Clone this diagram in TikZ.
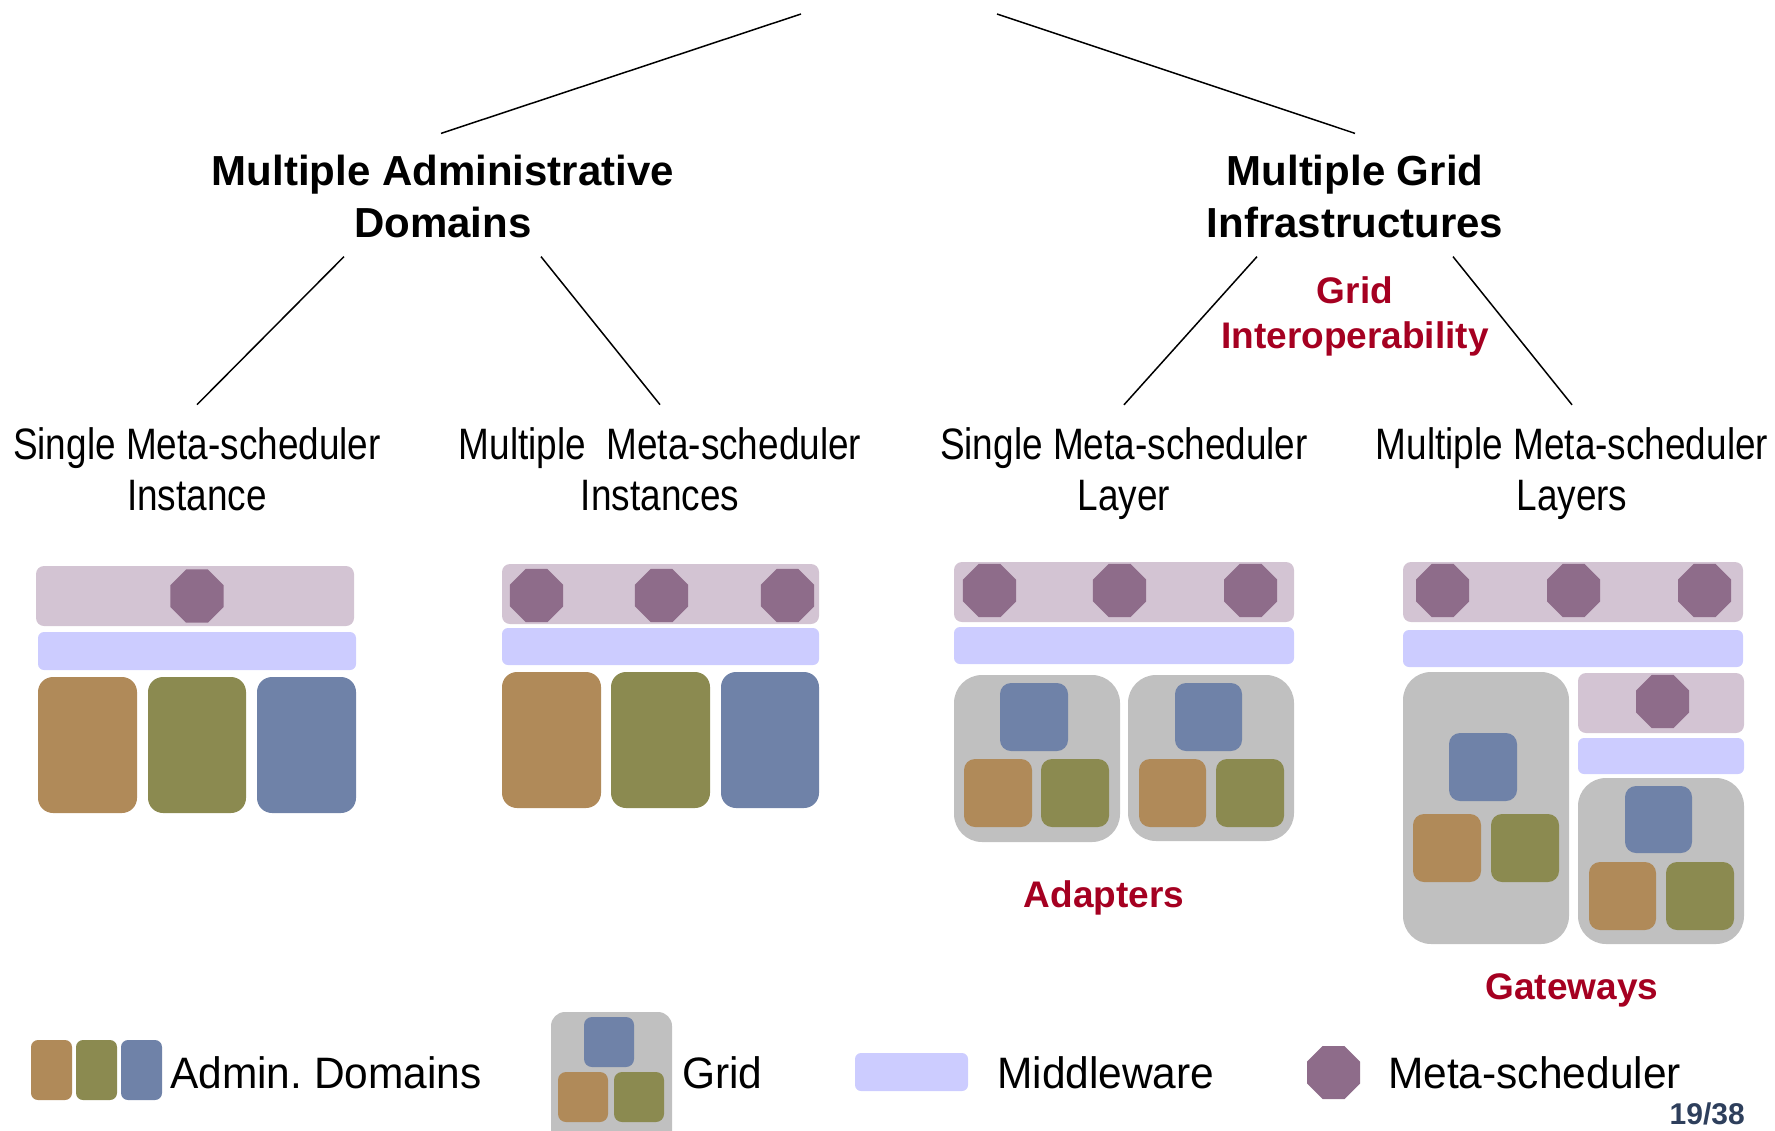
\documentclass[tikz,border=0pt]{standalone}
\usepackage{fontspec}
\setmainfont{Liberation Sans}
\newfontfamily\narrowfont[FakeStretch=0.84]{Liberation Sans}
\newfontfamily\legendfont[FakeStretch=0.965]{Liberation Sans}
\usetikzlibrary{shapes.geometric}
\definecolor{cMeta}{HTML}{D3C4D3}
\definecolor{cOct}{HTML}{8E6C8A}
\definecolor{cMid}{HTML}{CCCCFF}
\definecolor{cBrown}{HTML}{B08A59}
\definecolor{cOlive}{HTML}{8B8A50}
\definecolor{cBlue}{HTML}{6F82A8}
\definecolor{cGrid}{HTML}{C0C0C0}
\definecolor{cRed}{HTML}{A50021}
\definecolor{cPage}{HTML}{2E3F5C}
\frenchspacing
\begin{document}
\begin{tikzpicture}[x=1pt,y=-1pt,
 title/.style={font=\bfseries\fontsize{42}{52}\selectfont, align=center, inner sep=0pt},
 redlbl/.style={font=\bfseries\fontsize{37}{45}\selectfont, text=cRed, align=center, inner sep=0pt},
 lvl/.style={font=\narrowfont\fontsize{44}{51}\selectfont, align=center, inner sep=0pt},
 leg/.style={font=\legendfont\fontsize{44}{51}\selectfont, anchor=base west, inner sep=0pt},
 metabar/.style={fill=cMeta, rounded corners=8pt},
 midbar/.style={fill=cMid, rounded corners=6pt},
 dom/.style={rounded corners=15pt},
 sq/.style={rounded corners=11pt},
 sqs/.style={rounded corners=8pt},
 gridbox/.style={fill=cGrid, rounded corners=28pt},
 oct/.style={regular polygon, regular polygon sides=8, minimum size=57.4pt, inner sep=0pt, outer sep=0pt, fill=cOct},
 tree/.style={line width=1.5pt, black}
]
\useasboundingbox (0,0) rectangle (1775,1130);

% ---------- tree ----------
\coordinate (rootL) at (801,14);
\coordinate (rootR) at (997,14);
\node[title] (mad) at (443,196) {Multiple Administrative\\Domains};
\node[title] (mgi) at (1355,196) {Multiple Grid\\Infrastructures};
\node[redlbl] (gi) at (1355,316) {Grid\\Interoperability};
\node[lvl] (smi) at (197,469.5) {Single Meta-scheduler\\Instance};
\node[lvl] (mmi) at (660,469.5) {Multiple\ \ Meta-scheduler\\Instances};
\node[lvl] (sml) at (1124,474) {Single Meta-scheduler\\Layer};
\node[lvl] (mml) at (1572,474) {Multiple Meta-scheduler\\Layers};

\draw[tree] (rootL) -- ([xshift=-2pt,yshift=21pt]mad.north);
\draw[tree] (rootR) -- ([yshift=21pt]mgi.north);
\draw[tree] ([xshift=-99pt,yshift=-19pt]mad.south) -- ([yshift=23pt]smi.north);
\draw[tree] ([xshift=98pt,yshift=-19pt]mad.south) -- ([yshift=23pt]mmi.north);
\draw[tree] ([xshift=-98pt,yshift=-19pt]mgi.south) -- ([yshift=23pt]sml.north);
\draw[tree] ([xshift=98pt,yshift=-19pt]mgi.south) -- ([yshift=23pt]mml.north);

% ---------- diagram 1 ----------
\fill[metabar] (36,566) rectangle (354,626);
\node[oct] (d1o1) at (197,596) {};
\fill[midbar] (38,632) rectangle (356,670);
\fill[dom,cBrown] (38,677) rectangle (137,813);
\fill[dom,cOlive] (148,677) rectangle (246,813);
\fill[dom,cBlue] (257,677) rectangle (356,813);

% ---------- diagram 2 ----------
\fill[metabar] (502,564) rectangle (819,624);
\node[oct] (d2o1) at (536.5,595.5) {};
\node[oct] (d2o2) at (661.5,595.5) {};
\node[oct] (d2o3) at (787.5,595.5) {};
\fill[midbar] (502,628) rectangle (819,665);
\fill[dom,cBrown] (502,672) rectangle (601,808);
\fill[dom,cOlive] (611,672) rectangle (710,808);
\fill[dom,cBlue] (721,672) rectangle (819,808);

% ---------- diagram 3 ----------
\fill[metabar] (954,562) rectangle (1294,622);
\node[oct] (d3o1) at (989.5,590.5) {};
\node[oct] (d3o2) at (1119.5,590.5) {};
\node[oct] (d3o3) at (1250.5,590.5) {};
\fill[midbar] (954,627) rectangle (1294,664);
\fill[gridbox] (954,675) rectangle (1120,842);
\fill[sq,cBlue] (1000,683) rectangle (1068,751);
\fill[sq,cBrown] (964,759) rectangle (1032,827);
\fill[sq,cOlive] (1041,759) rectangle (1109,827);
\fill[gridbox] (1128,675) rectangle (1294,841);
\fill[sq,cBlue] (1175,683) rectangle (1242,751);
\fill[sq,cBrown] (1139,759) rectangle (1206,827);
\fill[sq,cOlive] (1216,759) rectangle (1284,827);
\node[redlbl, anchor=base] (adapt) at (1104,907) {Adapters};

% ---------- diagram 4 ----------
\fill[metabar] (1403,562) rectangle (1743,622);
\node[oct] (d4o1) at (1442.5,590.5) {};
\node[oct] (d4o2) at (1573.5,590.5) {};
\node[oct] (d4o3) at (1704.5,590.5) {};
\fill[midbar] (1403,630) rectangle (1743,667);
\fill[gridbox] (1403,672) rectangle (1569,944);
\fill[sq,cBlue] (1449,733) rectangle (1517,801);
\fill[sq,cBrown] (1413,814) rectangle (1481,882);
\fill[sq,cOlive] (1491,814) rectangle (1559,882);
\fill[metabar] (1578,673) rectangle (1744,733);
\node[oct] (d4o4) at (1662.5,701.5) {};
\fill[midbar] (1578,738) rectangle (1744,774);
\fill[gridbox] (1578,778) rectangle (1744,944);
\fill[sq,cBlue] (1625,786) rectangle (1692,853);
\fill[sq,cBrown] (1589,862) rectangle (1656,930);
\fill[sq,cOlive] (1666,862) rectangle (1734,930);
\node[redlbl, anchor=base] (gate) at (1572,999) {Gateways};

% ---------- legend ----------
\fill[rounded corners=7pt,cBrown] (31,1040) rectangle (72,1100);
\fill[rounded corners=7pt,cOlive] (76,1040) rectangle (117,1100);
\fill[rounded corners=7pt,cBlue] (121,1040) rectangle (162,1100);
\node[leg] (lad) at (170,1088) {Admin. Domains};
\fill[cGrid, rounded corners=14pt] (551,1012) rectangle (672,1150);
\fill[sqs,cBlue] (584,1017) rectangle (634,1067);
\fill[sqs,cBrown] (558,1072) rectangle (608,1122);
\fill[sqs,cOlive] (614,1072) rectangle (664,1122);
\node[leg] (lgrid) at (682,1088) {Grid};
\fill[midbar] (855,1053) rectangle (968,1091);
\node[leg] (lmid) at (997,1088) {Middleware};
\node[oct] (loct) at (1333.5,1072.5) {};
\node[leg] (lmeta) at (1388,1088) {Meta-scheduler};
\node[font=\bfseries\fontsize{30}{36}\selectfont, text=cPage, anchor=base east, inner sep=0pt] (pg) at (1745,1124) {19/38};
\end{tikzpicture}
\end{document}
